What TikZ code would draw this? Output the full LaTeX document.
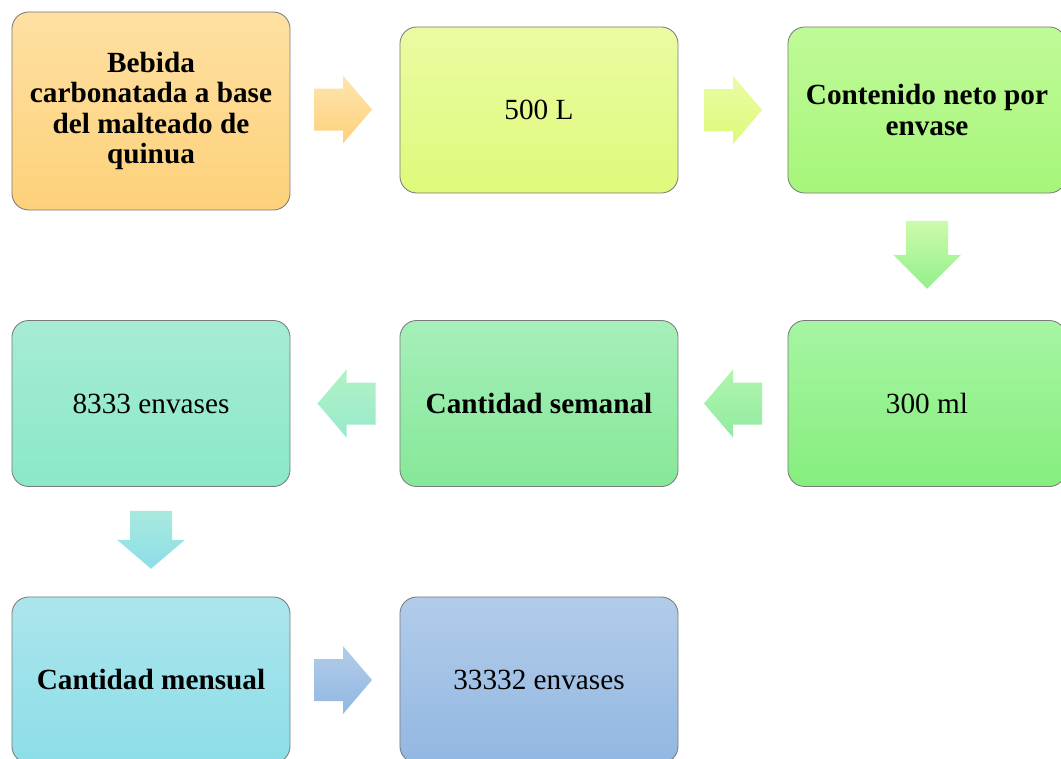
\documentclass[tikz,border=0pt]{standalone}
\usepackage{fontspec}
\setmainfont{Liberation Serif}
\usetikzlibrary{calc}

% box colours (top / bottom of each gradient)
\definecolor{naranjaA}{RGB}{254,224,162}
\definecolor{naranjaB}{RGB}{253,209,122}
\definecolor{limaA}{RGB}{234,251,163}
\definecolor{limaB}{RGB}{222,250,122}
\definecolor{verdeA}{RGB}{192,250,152}
\definecolor{verdeB}{RGB}{166,246,122}
\definecolor{pastoA}{RGB}{166,245,162}
\definecolor{pastoB}{RGB}{134,238,126}
\definecolor{mentaA}{RGB}{166,239,186}
\definecolor{mentaB}{RGB}{134,232,152}
\definecolor{aguaA}{RGB}{166,236,212}
\definecolor{aguaB}{RGB}{138,232,200}
\definecolor{cieloA}{RGB}{172,229,236}
\definecolor{cieloB}{RGB}{140,222,232}
\definecolor{azulA}{RGB}{178,204,233}
\definecolor{azulB}{RGB}{146,183,226}
\definecolor{borde}{RGB}{122,122,122}

\begin{document}
\begin{tikzpicture}[x=0.025cm, y=-0.025cm,
    box/.style={draw=borde, line width=0.6pt, rounded corners=0.42cm,
        minimum width=6.95cm, minimum height=4.15cm, align=center,
        inner sep=2pt, font=\fontsize{20.8}{21.7}\selectfont},
    boxbold/.style={box, font=\fontsize{20.8}{21.7}\selectfont\bfseries},
    % block arrows, drawn in pixel units
    flechader/.pic={\path[pic actions] (-29,-21) -- (0,-21) -- (0,-34) -- (29,0)
        -- (0,34) -- (0,21) -- (-29,21) -- cycle;},
    flechaizq/.pic={\path[pic actions] (29,-21) -- (0,-21) -- (0,-34) -- (-29,0)
        -- (0,34) -- (0,21) -- (29,21) -- cycle;},
    flechaabajo/.pic={\path[pic actions] (-21,-#1) -- (21,-#1) -- (21,0) -- (34,0)
        -- (0,#1) -- (-34,0) -- (-21,0) -- cycle;},
    ]
    \useasboundingbox (0,0) rectangle (1061,758);
    \clip (0,0) rectangle (1061,758);

    % Row 1
    \node[boxbold, minimum height=4.95cm, top color=naranjaA, bottom color=naranjaB]
        (bebida) at (151,111) {Bebida\\carbonatada a base\\del malteado de\\quinua};
    \node[box, top color=limaA, bottom color=limaB]
        (volumen) at (539,110) {500 L};
    \node[boxbold, top color=verdeA, bottom color=verdeB]
        (contenido) at (927,110) {Contenido neto por\\envase};

    % Row 2
    \node[box, top color=pastoA, bottom color=pastoB]
        (botella) at (927,403.5) {300 ml};
    \node[boxbold, top color=mentaA, bottom color=mentaB]
        (semanal) at (539,403.5) {Cantidad semanal};
    \node[box, top color=aguaA, bottom color=aguaB]
        (envases) at (151,403.5) {8333 envases};

    % Row 3
    \node[boxbold, top color=cieloA, bottom color=cieloB]
        (mensual) at (151,680) {Cantidad mensual};
    \node[box, top color=azulA, bottom color=azulB]
        (total) at (539,680) {33332 envases};

    % Block arrows between the boxes
    \pic[top color=naranjaA!85!white, bottom color=naranjaB]
        (f1) at ($(bebida.east)!0.5!(volumen.west)+(-2,-1)$) {flechader};
    \pic[top color=limaA, bottom color=limaB]
        (f2) at ($(volumen.east)!0.5!(contenido.west)$) {flechader};
    \pic[top color=verdeA!80!white, bottom color=pastoB!90!white]
        (f3) at ($(contenido.south)!0.5!(botella.north)+(0,-2)$) {flechaabajo=34};
    \pic[top color=pastoA!90!white, bottom color=mentaB!90!white]
        (f4) at ($(botella.west)!0.5!(semanal.east)$) {flechaizq};
    \pic[top color=mentaA!85!white, bottom color=aguaB!90!white]
        (f5) at ($(semanal.west)!0.5!(envases.east)+(1.5,0)$) {flechaizq};
    \pic[top color=aguaA!60!cieloA, bottom color=cieloB]
        (f6) at ($(envases.south)!0.5!(mensual.north)+(0,-2)$) {flechaabajo=29};
    \pic[top color=azulA, bottom color=azulB]
        (f7) at ($(mensual.east)!0.5!(total.west)+(-2,0)$) {flechader};
\end{tikzpicture}
\end{document}
